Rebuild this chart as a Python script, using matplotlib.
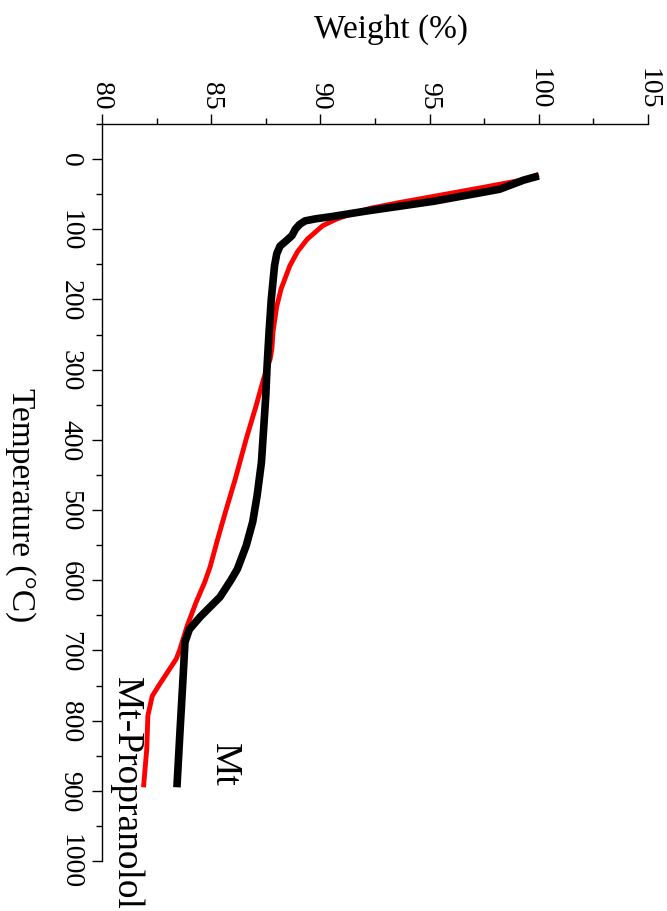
import matplotlib.pyplot as plt
from matplotlib.ticker import MultipleLocator

# TGA curves: temperature (deg C) vs remaining weight (%)
mt_temp = [24, 30, 43, 60, 74, 82, 85, 88, 93, 100, 109, 116, 124, 135, 152, 200,
           246, 300, 337, 385, 432, 480, 517, 551, 584, 600, 624, 652, 670, 688,
           745, 816, 895]
mt_weight = [100.0, 99.3, 98.2, 95.2, 92.1, 90.5, 89.8, 89.3, 89.05, 88.85, 88.7,
             88.45, 88.15, 88.0, 87.9, 87.75, 87.65, 87.55, 87.5, 87.4, 87.3, 87.1,
             86.9, 86.6, 86.2, 85.9, 85.4, 84.5, 84.0, 83.8, 83.7, 83.57, 83.43]

mtp_temp = [22, 30, 40, 53, 62, 70, 78, 86, 95, 114, 132, 152, 185, 210, 246, 270,
            285, 298, 313, 352, 399, 456, 503, 541, 581, 603, 632, 665, 700, 712,
            731, 750, 765, 793, 840, 895]
mtp_weight = [100.0, 99.2, 97.5, 95.2, 93.6, 92.3, 91.4, 90.7, 90.1, 89.4, 88.95,
              88.6, 88.2, 88.0, 87.83, 87.78, 87.7, 87.55, 87.4, 87.05, 86.6, 86.1,
              85.65, 85.3, 84.95, 84.7, 84.3, 83.9, 83.55, 83.4, 83.0, 82.6, 82.3,
              82.1, 82.05, 81.9]

weight_ticks = [80, 85, 90, 95, 100, 105]
temp_ticks = [0, 100, 200, 300, 400, 500, 600, 700, 800, 900, 1000]

plt.rcParams['font.family'] = ['Liberation Serif', 'DejaVu Serif']

fig = plt.figure(figsize=(6.67, 9.12), dpi=100)
ax = fig.add_axes([102 / 667, 1 - 862 / 912, 546 / 667, 737 / 912])

ax.plot(mtp_weight, mtp_temp, color='red', lw=3.5, solid_capstyle='butt',
        solid_joinstyle='round')
ax.plot(mt_weight, mt_temp, color='black', lw=5.5, solid_capstyle='butt',
        solid_joinstyle='round')

ax.set_xlim(80, 105)
ax.set_ylim(1000, -50)

for s in ['right', 'bottom']:
    ax.spines[s].set_visible(False)
for s in ['top', 'left']:
    ax.spines[s].set_linewidth(1.0)

ax.xaxis.set_ticks_position('top')
ax.set_xticks(weight_ticks)
ax.set_xticklabels([str(t) for t in weight_ticks], rotation=-90, ha='center', va='bottom')
ax.xaxis.set_minor_locator(MultipleLocator(2.5))

ax.set_yticks(temp_ticks)
ax.set_yticklabels([str(t) for t in temp_ticks], rotation=-90, ha='right', va='center')
ax.yaxis.set_minor_locator(MultipleLocator(50))

ax.tick_params(which='major', direction='out', length=7, width=1.0, labelsize=20)
ax.tick_params(which='minor', direction='out', length=4.5, width=1.0)
ax.tick_params(axis='x', which='major', pad=4)
ax.tick_params(axis='y', which='major', pad=7)

fig.text(0.586, 0.967, 'Weight (%)', fontsize=24, ha='center', va='center')
fig.text(0.03, 0.446, 'Temperature (°C)', fontsize=24, rotation=-90,
         ha='center', va='center')

ax.text(85.6, 862, 'Mt', fontsize=27, rotation=-90, ha='center', va='center')
ax.text(81.1, 736, 'Mt-Propranolol', fontsize=27, rotation=-90, ha='center',
        va='top', clip_on=False)

fig.savefig('out.png', dpi=100)
